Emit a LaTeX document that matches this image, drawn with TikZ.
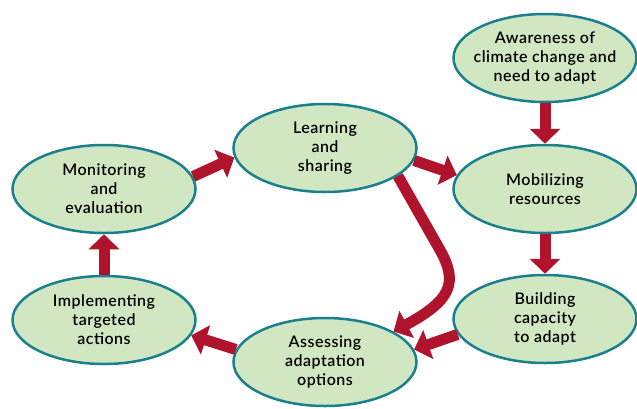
\documentclass[tikz,border=0pt]{standalone}
\usepackage{fontspec}
\setmainfont{Lato}[UprightFont=* Semibold,LetterSpace=3]
\usetikzlibrary{arrows.meta,shapes.geometric}
\definecolor{leaf}{HTML}{D1E7C1}
\definecolor{teal}{HTML}{1A7F8F}
\definecolor{crimson}{HTML}{B0142C}
\begin{document}
\begin{tikzpicture}[x=1pt,y=-1pt,
	stage/.style={ellipse,draw=teal,line width=2.5pt,fill=leaf,minimum width=183pt,minimum height=88pt,inner xsep=-25pt,inner ysep=0pt,align=center,font=\fontsize{16}{19}\selectfont},
	flow/.style={draw=crimson,line width=11pt,-{Triangle[width=30pt,length=15pt]}}]
	\useasboundingbox (0,0) rectangle (637,408);
	\node[stage] (aware) at (545,58) {Awareness of\\climate change and\\need to adapt};
	\node[stage] (mobil) at (545,189) {Mobilizing\\resources};
	\node[stage] (build) at (545,319) {Building\\capacity\\to adapt};
	\node[stage] (assess) at (325,362) {Assessing\\adaptation\\options};
	\node[stage] (implem) at (104,320) {Implementing\\targeted\\actions};
	\node[stage] (monit) at (104,189) {Monitoring\\and\\evaluation};
	\node[stage] (learn) at (325,148) {Learning\\and\\sharing};
	\draw[flow] (aware) -- (mobil);
	\draw[flow] (mobil) -- (build);
	\draw[flow] (build.190) -- (assess.8);
	\draw[flow] (assess.172) -- (implem.350);
	\draw[flow] (implem) -- (monit);
	\draw[flow] (monit.8) -- (learn.186);
	\draw[flow] (learn.352) -- (mobil.171);
	\draw[flow] (learn.-21) -- (440,250) .. controls (458,282) and (452,300) .. (assess.24);
\end{tikzpicture}
\end{document}
